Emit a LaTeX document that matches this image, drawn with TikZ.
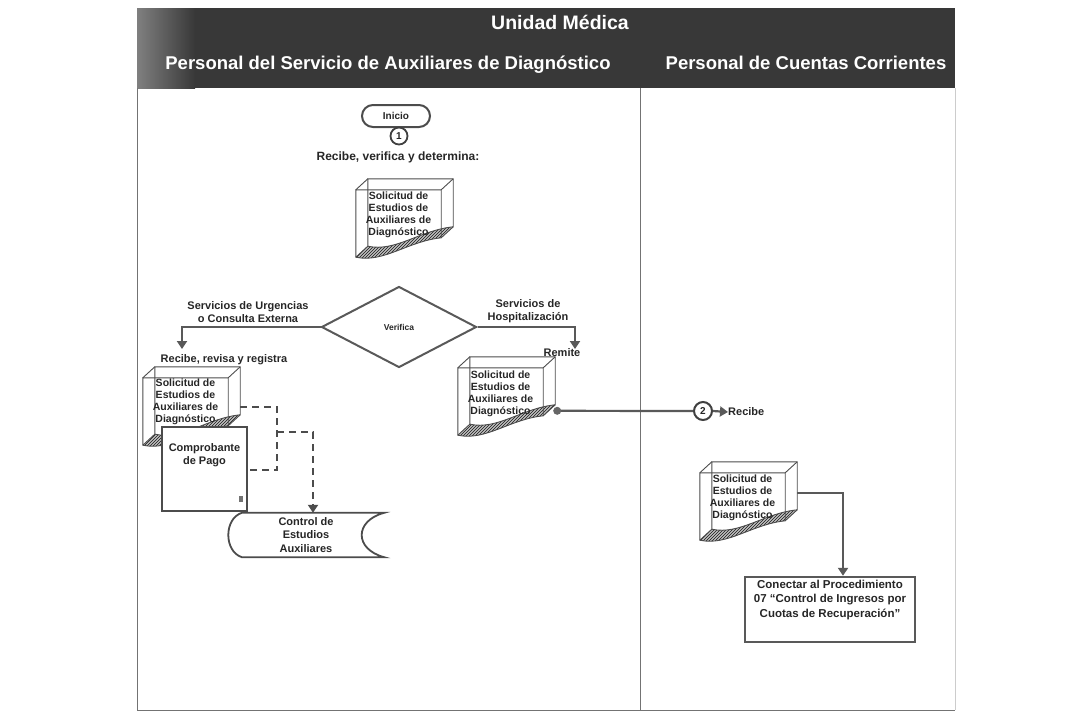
\documentclass[tikz,border=0pt]{standalone}
\usepackage{fontspec}
\setmainfont{Liberation Sans}
\usetikzlibrary{arrows.meta,shapes.geometric,calc,patterns}

\tikzset{
  hdr/.style={font=\fontsize{18.5}{20}\selectfont\bfseries, text=white, inner sep=0},
  lbl/.style={font=\fontsize{11}{13.5}\selectfont\bfseries, text=black!85, align=center, inner sep=0},
  doctext/.style={font=\fontsize{10.5}{12}\selectfont\bfseries, text=black!85, align=center, inner sep=0},
  docnode/.style={minimum width=85pt, minimum height=67pt, inner sep=0},
  docline/.style={draw=black!70, line width=0.9pt},
  shapeline/.style={draw=black!70, line width=1.8pt},
  frame/.style={draw=black!55, line width=0.8pt},
  conn/.style={draw=black!65, line width=2.2pt, -{Triangle[width=10pt,length=8pt]}},
  plainconn/.style={draw=black!65, line width=2.2pt},
  dconn/.style={draw=black!70, line width=2.2pt, dash pattern=on 7pt off 5pt},
}

% 3D document: transparent box whose front face has a wavy lower edge,
% with a hatched strip for the bottom face
\newcommand\drawdoc[1]{%
  \coordinate (#1-nw) at (#1.north west);
  \coordinate (#1-ne) at (#1.north east);
  \coordinate (#1-sw) at (#1.south west);
  \coordinate (#1-re) at ($(#1.north east)+(0,48)$);
  \path[fill=black!25]
    (#1-re) .. controls ($(#1-sw)+(52,-16)$) and ($(#1-sw)+(28,6)$) .. (#1-sw)
    -- ($(#1-sw)+(12,-11)$)
    .. controls ($(#1-sw)+(40,-5)$) and ($(#1-sw)+(64,-27)$) .. ($(#1-re)+(12,-11)$) -- cycle;
  \fill[pattern=north east lines, pattern color=black!90]
    (#1-re) .. controls ($(#1-sw)+(52,-16)$) and ($(#1-sw)+(28,6)$) .. (#1-sw)
    -- ($(#1-sw)+(12,-11)$)
    .. controls ($(#1-sw)+(40,-5)$) and ($(#1-sw)+(64,-27)$) .. ($(#1-re)+(12,-11)$) -- cycle;
  \draw[docline] ($(#1-nw)+(12,-11)$) -- ($(#1-ne)+(12,-11)$) -- ($(#1-re)+(12,-11)$)
    .. controls ($(#1-sw)+(64,-27)$) and ($(#1-sw)+(40,-5)$) .. ($(#1-sw)+(12,-11)$) -- cycle;
  \draw[docline] (#1-nw) -- (#1-ne) -- (#1-re)
    .. controls ($(#1-sw)+(52,-16)$) and ($(#1-sw)+(28,6)$) .. (#1-sw) -- cycle;
  \draw[docline] (#1-nw) -- ++(12,-11) (#1-ne) -- ++(12,-11)
    (#1-re) -- ++(12,-11) (#1-sw) -- ++(12,-11);
}

\begin{document}
\begin{tikzpicture}[x=1pt,y=-1pt]
\useasboundingbox (0,0) rectangle (1085,713);

% ---------- header band ----------
\fill[black!78] (137,8) rectangle (955,88);
\shade[left color=black!50, right color=black!78] (137,8) rectangle (195,88);
\node[hdr, font=\fontsize{19.5}{21}\selectfont\bfseries, anchor=base] (title) at (560,29) {Unidad Médica};
\node[hdr, anchor=base] (laneA) at (388,69) {Personal del Servicio de Auxiliares de Diagnóstico};
\node[hdr, anchor=base] (laneB) at (806,69) {Personal de Cuentas Corrientes};

% ---------- lane frame ----------
\draw[frame] (137,88) -- (137,710) -- (955,710);
\draw[frame] (640,88) -- (640,710);
\draw[black!20, line width=0.6pt] (955,88) -- (955,710);

% ---------- start ----------
\node[draw=black!70, line width=2pt, rounded corners=11pt, minimum width=68pt,
      minimum height=22pt, inner sep=0, lbl, font=\fontsize{10}{12}\selectfont\bfseries]
      (ini) at (396,116) {Inicio};
\node[circle, draw=black!75, line width=1.8pt, fill=white, minimum size=17pt, inner sep=0,
      lbl, font=\fontsize{10}{12}\selectfont\bfseries] (c1) at (399,136) {1};
\node[lbl, font=\fontsize{12}{14}\selectfont\bfseries] (rv) at (398,157) {Recibe, verifica y determina:};

% ---------- first request document ----------
\node[docnode] (d1) at (398.5,223.5) {};
\drawdoc{d1}
\node[doctext] (d1t) at ($(d1.north)+(0,25)$) {Solicitud de\\Estudios de\\Auxiliares de\\Diagnóstico};

% ---------- decision ----------
\node[diamond, draw=black!65, line width=2pt, minimum width=155pt, minimum height=81pt,
      inner sep=0, font=\fontsize{8.5}{10}\selectfont\bfseries, text=black!85] (dia) at (399,327) {Verifica};

\node[lbl] (urg) at (248,312) {Servicios de Urgencias\\o Consulta Externa};
\node[lbl] (hosp) at (528,311) {Servicios de\\Hospitalización};
\coordinate (urgEnd) at (182,349);
\coordinate (hospEnd) at (575,349);
\draw[conn] (dia.west) -| (urgEnd);
\draw[conn] (dia.east) -| (hospEnd);

\node[lbl] (rrr) at (224,360) {Recibe, revisa y registra};
\node[lbl] (rem) at (562,353) {Remite};

% ---------- documents received in the lab ----------
\node[docnode] (ld) at (185.5,411.5) {};
\drawdoc{ld}
\node[doctext] (ldt) at ($(ld.north)+(0,24)$) {Solicitud de\\Estudios de\\Auxiliares de\\Diagnóstico};

\node[draw=black!70, line width=1.8pt, fill=white, minimum width=85pt, minimum height=84pt,
      inner sep=0] (cp) at (204.5,469) {};
\node[lbl] (cpt) at ($(cp.north)+(0,29)$) {Comprobante\\de Pago};
\fill[black!55] ($(cp.south east)+(-9,-16)$) rectangle ++(4,6);

% ---------- register ----------
\node[minimum width=156pt, minimum height=44pt, inner sep=0] (ctrl) at (306,535) {};
\draw[shapeline, fill=white]
  ($(ctrl.north west)+(14,0)$) -- (ctrl.north east)
  .. controls ($(ctrl.north east)+(-30,8)$) and ($(ctrl.south east)+(-30,-8)$) .. (ctrl.south east)
  -- ($(ctrl.south west)+(14,0)$)
  .. controls ($(ctrl.south west)+(-4,-6)$) and ($(ctrl.north west)+(-4,6)$) .. cycle;
\node[lbl] (ctrlt) at (ctrl.center) {Control de\\Estudios\\Auxiliares};

\coordinate (ldA) at ($(ld.north east)+(12,29)$);
\coordinate (jx) at (277,470);
\coordinate (jy) at (277,432);
\draw[dconn] (ldA) -| (jx) -- (cp.east |- jx);
\draw[dconn, -{Triangle[width=10pt,length=8pt]}] (jy) -| ($(ctrl.north)+(7,0)$);

% ---------- document sent to accounts ----------
\node[docnode] (hd) at (500.5,401.5) {};
\drawdoc{hd}
\node[doctext] (hdt) at ($(hd.north)+(0,26)$) {Solicitud de\\Estudios de\\Auxiliares de\\Diagnóstico};

\coordinate (hA) at ($(hd.north east)+(14,43)$);
\node[circle, draw=black!75, line width=2pt, fill=white, minimum size=18pt, inner sep=0,
      lbl, font=\fontsize{10}{12}\selectfont\bfseries] (c2) at (703,411) {2};
\node[lbl, anchor=west] (rcb) at (728,412) {Recibe};
\draw[plainconn] (hA) -- (c2.west);
\fill[black!60] (hA) circle (4pt);
\draw[conn] (c2.east) -- (rcb.west);

% ---------- accounts lane ----------
\node[docnode] (d2) at (742.5,506.5) {};
\drawdoc{d2}
\node[doctext] (d2t) at ($(d2.north)+(0,25)$) {Solicitud de\\Estudios de\\Auxiliares de\\Diagnóstico};

\node[draw=black!65, line width=2.4pt, minimum width=170pt, minimum height=65pt, inner sep=0]
      (cb) at (830,609.5) {};
\node[lbl, anchor=north, font=\fontsize{11.5}{14.5}\selectfont\bfseries] (cbt) at ($(cb.north)+(0,4)$)
      {Conectar al Procedimiento\\07 “Control de Ingresos por\\Cuotas de Recuperación”};

\coordinate (d2A) at ($(d2.north east)+(12,20)$);
\draw[conn] (d2A) -| ($(cb.north)+(13,0)$);

\end{tikzpicture}
\end{document}
